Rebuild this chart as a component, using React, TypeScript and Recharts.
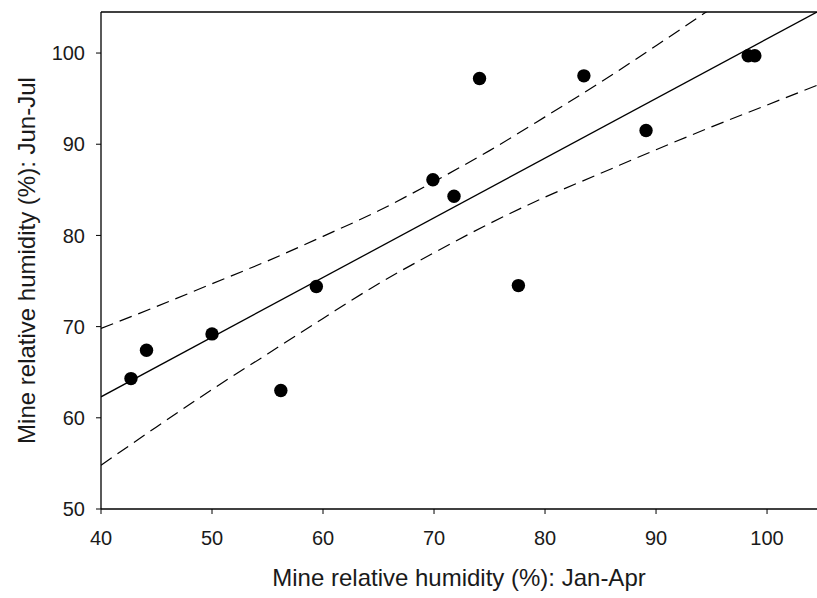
import { ComposedChart, Line, Scatter, XAxis, YAxis, ReferenceLine, Label } from "recharts"

// observed points (Jan-Apr vs Jun-Jul mine humidity)
const janApr = [42.7, 44.1, 50.0, 56.2, 59.4, 69.9, 71.8, 74.1, 77.6, 83.5, 89.1, 98.3, 98.9]
const junJul = [64.3, 67.4, 69.2, 63.0, 74.4, 86.1, 84.3, 97.2, 74.5, 97.5, 91.5, 99.7, 99.7]

// regression line end points
const fitX = [40, 104.5]
const fitY = [62.3, 104.5]

const bandX = [40, 45, 50, 55, 60, 65, 70, 75, 80, 85, 90, 95, 100, 105]
const upperBand = [69.8, 72.2, 74.7, 77.2, 79.9, 82.7, 85.9, 89.3, 93.0, 96.8, 100.8, 104.9, 109.1, 113.3]
const lowerBand = [54.8, 59.0, 63.1, 67.0, 70.9, 74.7, 78.1, 81.3, 84.2, 86.8, 89.4, 91.9, 94.3, 96.7]

const xTicks = [40, 50, 60, 70, 80, 90, 100]
const yTicks = [50, 60, 70, 80, 90, 100]

const FONT = "'Liberation Sans', Arial, sans-serif"
const INK = "#1a1a1a"

export default function App() {
  const points = janApr.map((x, i) => ({ x, y: junJul[i] }))
  const fit = fitX.map((x, i) => ({ x, fit: fitY[i] }))
  const band = bandX.map((x, i) => ({ x, upper: upperBand[i], lower: lowerBand[i] }))

  const dot = (props: any) => <circle cx={props.cx} cy={props.cy} r={6.7} fill="#000" />

  return (
    <div style={{ position: "fixed", left: 0, top: 0, width: 817, height: 598, overflow: "hidden", background: "#fff" }}>
      <ComposedChart width={817} height={598} margin={{ top: 12, right: 0, left: 0, bottom: 19 }}>
        <XAxis
          type="number"
          dataKey="x"
          domain={[40, 104.5]}
          allowDataOverflow
          ticks={xTicks}
          height={70}
          tickSize={5}
          tickMargin={17}
          tick={{ fontSize: 20, fill: INK, fontFamily: FONT }}
          axisLine={{ stroke: "#000", strokeWidth: 1.3 }}
          tickLine={{ stroke: "#000" }}
        >
          <Label
            value="Mine relative humidity (%): Jan-Apr"
            position="insideBottom"
            offset={-7}
            style={{ fontSize: 24, fill: INK, fontFamily: FONT }}
          />
        </XAxis>
        <YAxis
          type="number"
          domain={[50, 104.5]}
          allowDataOverflow
          ticks={yTicks}
          width={101}
          tickSize={5}
          tickMargin={11}
          tick={{ fontSize: 20, fill: INK, fontFamily: FONT }}
          axisLine={{ stroke: "#000", strokeWidth: 1.3 }}
          tickLine={{ stroke: "#000" }}
        >
          <Label
            value="Mine relative humidity (%): Jun-Jul"
            angle={-90}
            position="insideLeft"
            offset={26}
            style={{ fontSize: 24, fill: INK, fontFamily: FONT, textAnchor: "middle" }}
          />
        </YAxis>
        <ReferenceLine y={104.5} stroke="#000" strokeWidth={1.3} />
        <Line
          data={band}
          dataKey="upper"
          type="monotone"
          stroke="#000"
          strokeWidth={1.2}
          strokeDasharray="13 7"
          dot={false}
          isAnimationActive={false}
        />
        <Line
          data={band}
          dataKey="lower"
          type="monotone"
          stroke="#000"
          strokeWidth={1.2}
          strokeDasharray="13 7"
          dot={false}
          isAnimationActive={false}
        />
        <Line
          data={fit}
          dataKey="fit"
          type="linear"
          stroke="#000"
          strokeWidth={1.3}
          dot={false}
          isAnimationActive={false}
        />
        <Scatter data={points} dataKey="y" shape={dot} isAnimationActive={false} />
      </ComposedChart>
    </div>
  )
}
